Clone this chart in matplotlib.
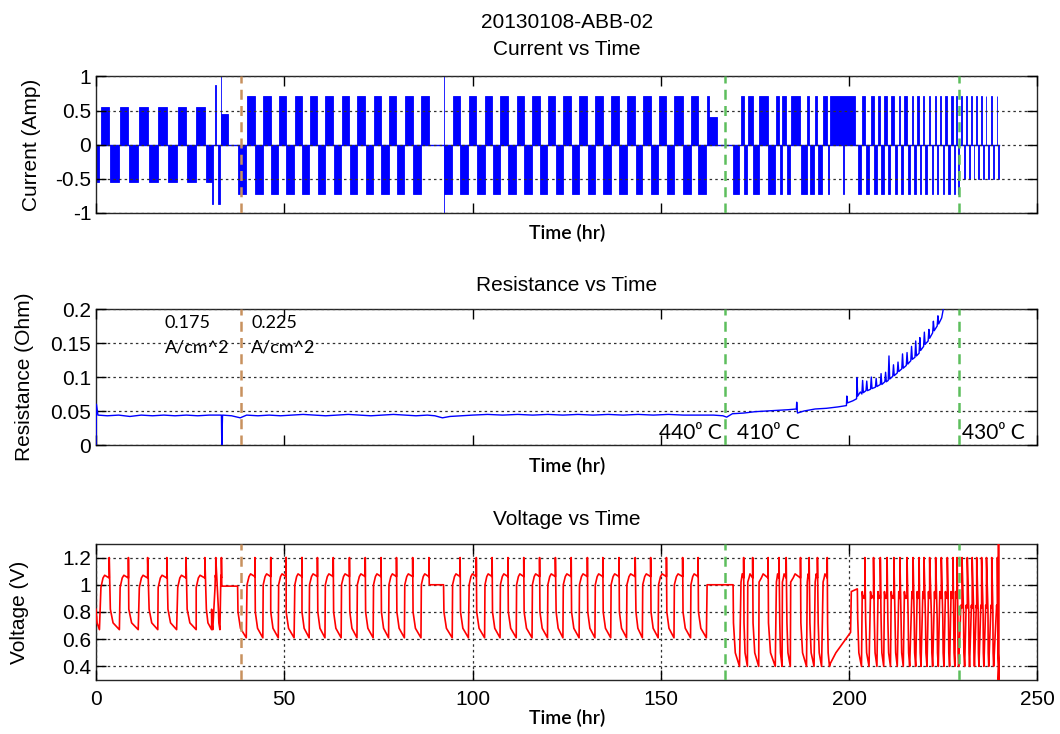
import numpy as np
import matplotlib
matplotlib.use('Agg')
import matplotlib.pyplot as plt

plt.rcParams['font.family'] = ['Liberation Sans', 'DejaVu Sans']
plt.rcParams['axes.unicode_minus'] = False

# current pulses, (start hr, end hr)
pos_1 = [(1.3, 3.5), (6.4, 8.6), (11.5, 13.7), (16.5, 18.8), (21.7, 23.9), (26.6, 28.9)]
neg_1 = [(0.0, 0.9), (3.8, 6.2), (8.7, 11.2), (14.1, 16.4), (19.1, 21.4), (24.2, 26.6), (29.3, 30.7)]
pos_2 = [(40.1, 42.2), (44.4, 46.4), (48.5, 50.5), (52.8, 54.7), (56.7, 58.8), (60.9, 63.0),
         (65.2, 67.3), (69.4, 71.5), (73.7, 75.7), (77.8, 79.8), (82.0, 84.1), (86.4, 88.4)]
neg_2 = [(37.7, 39.9), (42.3, 44.3), (46.4, 48.4), (50.5, 52.6), (54.7, 56.6), (58.9, 60.8),
         (63.1, 65.1), (67.4, 69.3), (71.6, 73.6), (75.8, 77.7), (79.9, 81.9), (84.2, 86.3)]
pos_3 = [(94.7, 96.7), (99.1, 101.0), (103.3, 105.2), (107.4, 109.4), (111.7, 113.6), (115.9, 117.8),
         (120.0, 122.0), (124.1, 126.2), (128.4, 130.5), (132.6, 134.6), (136.8, 138.9), (141.0, 143.2),
         (145.2, 147.3), (149.4, 151.5), (153.6, 155.8), (158.0, 159.9)]
neg_3 = [(92.4, 94.6), (96.8, 98.9), (101.1, 103.2), (105.3, 107.3), (109.5, 111.6), (113.7, 115.8),
         (117.9, 119.9), (122.2, 124.0), (126.3, 128.3), (130.6, 132.5), (134.7, 136.7), (139.0, 140.9),
         (143.4, 145.1), (147.4, 149.3), (151.6, 153.5), (155.9, 157.9), (160.0, 162.1)]
pos_4 = [(171.3, 172.0), (173.1, 174.4), (176.1, 178.5), (180.7, 181.4), (182.3, 183.3), (184.5, 187.1),
         (188.9, 189.4), (191.0, 191.6), (193.1, 194.2), (195.0, 201.7), (203.5, 204.2), (205.7, 206.5),
         (207.7, 208.3), (209.4, 210.1), (211.2, 211.9), (213.2, 213.5), (214.7, 215.4), (216.7, 217.0),
         (218.1, 218.6), (219.6, 219.9), (221.1, 221.4), (222.7, 223.0), (224.1, 224.5), (225.6, 226.1),
         (227.1, 227.6), (228.3, 228.7), (229.7, 230.0), (231.1, 231.4), (232.5, 232.7), (233.8, 233.9),
         (235.0, 235.2), (236.3, 236.5), (237.7, 237.9), (239.2, 239.4)]
neg_4a = [(169.3, 170.9), (172.1, 173.0), (174.5, 176.0), (178.6, 180.4), (181.6, 182.2), (183.5, 184.4),
          (187.2, 188.7), (189.6, 190.7), (191.8, 192.7), (194.3, 194.8), (198.3, 198.6), (202.3, 203.3),
          (204.4, 205.3), (206.7, 207.4), (208.5, 209.2), (210.3, 211.0), (212.2, 212.8), (213.8, 214.4),
          (215.7, 216.1), (217.3, 217.7), (218.8, 219.1), (220.3, 220.7), (221.9, 222.2), (223.4, 223.7),
          (224.9, 225.2), (226.4, 226.7), (227.8, 228.1), (228.9, 229.1)]
neg_4b = [(230.4, 230.7), (231.8, 232.0), (233.1, 233.3), (234.3, 234.5), (235.6, 235.8), (236.9, 237.1),
          (238.2, 238.4), (239.5, 239.8)]
cur_groups = [(pos_1, 0.55), (neg_1, -0.55), (pos_2, 0.72), (neg_2, -0.72), (pos_3, 0.72),
              (neg_3, -0.72), (pos_4, 0.72), (neg_4a, -0.72), (neg_4b, -0.5)]
# odd spikes / partial steps
cur_extra = [(30.7, 31.0, -0.87), (31.6, 31.8, 0.88), (32.5, 32.9, -0.87), (33.1, 33.3, 1.0),
             (33.3, 35.0, 0.45), (162.4, 162.8, 0.72), (162.8, 164.9, 0.40),
             (92.35, 92.45, 1.0), (92.35, 92.45, -1.0)]

# resistance (hr, Ohm)
res_t = [0, 0.1, 0.5, 3, 6, 9, 12, 15, 18, 21, 24, 27, 30, 33.3, 33.4, 33.6, 36, 38.3, 40, 43,
         46, 49, 52, 55, 58, 61, 64, 67, 70, 73, 76, 79, 82, 85, 88, 90, 92, 94, 97, 100,
         104, 108, 112, 116, 120, 124, 128, 132, 136, 140, 144, 148, 152, 156, 160, 164, 166.5, 167.5,
         169, 172, 175, 178, 181, 184, 186.0, 186.1, 186.3, 188, 191, 194, 197, 199.3, 199.4, 199.6,
         201, 202.0, 202.1, 202.3, 203.0, 203.4, 203.6, 203.8, 204.5, 204.7, 204.9, 205.7, 205.9, 206.1,
         207.0, 207.2, 207.4, 208.3, 208.5, 208.7, 209.5, 209.7, 209.9, 210.4, 210.6, 210.8, 211.6, 211.8,
         212.0, 212.8, 213.0, 213.2, 214.0, 214.2, 214.4, 215.2, 215.4, 215.6, 216.4, 216.6, 216.8,
         217.5, 217.7, 217.9, 218.6, 218.8, 219.0, 219.8, 220.0, 220.2, 221.0, 221.2, 221.4, 222.2,
         222.4, 222.6, 223.4, 223.6, 223.8, 224.6, 225.2]
res_v = [0.0, 0.060, 0.044, 0.043, 0.044, 0.042, 0.044, 0.043, 0.044, 0.043, 0.044, 0.043, 0.044, 0.044,
         0.0, 0.044, 0.043, 0.040, 0.044, 0.043, 0.044, 0.043, 0.044, 0.045, 0.044, 0.043, 0.044, 0.045,
         0.044, 0.043, 0.044, 0.045, 0.044, 0.043, 0.044, 0.043, 0.040, 0.042, 0.043, 0.044, 0.045, 0.044,
         0.045, 0.044, 0.045, 0.044, 0.045, 0.044, 0.045, 0.044, 0.045, 0.044, 0.045, 0.044, 0.044, 0.044,
         0.043, 0.041, 0.046, 0.047, 0.049, 0.050, 0.051, 0.052, 0.053, 0.063, 0.047, 0.050, 0.053, 0.054,
         0.056, 0.058, 0.072, 0.062, 0.065, 0.068, 0.099, 0.072, 0.078, 0.075, 0.095, 0.077, 0.080, 0.094,
         0.080, 0.082, 0.100, 0.083, 0.085, 0.098, 0.086, 0.089, 0.105, 0.089, 0.093, 0.107, 0.093, 0.095,
         0.131, 0.097, 0.101, 0.118, 0.102, 0.106, 0.122, 0.108, 0.112, 0.134, 0.113, 0.117, 0.136, 0.119,
         0.124, 0.145, 0.126, 0.129, 0.153, 0.131, 0.135, 0.158, 0.139, 0.145, 0.166, 0.148, 0.153, 0.170,
         0.157, 0.165, 0.182, 0.168, 0.175, 0.190, 0.178, 0.187, 0.205]

# voltage levels during pulses, per stretch of time (stretch ends at volt_seg_end)
volt_seg_end = [36, 90, 166, 201, 229, 241]
volt_hi_start = [0.98, 1.00, 1.00, 1.02, 0.95, 0.85]
volt_hi_peak = [1.07, 1.08, 1.08, 1.08, 0.92, 0.84]
volt_hi_end = [1.05, 1.06, 1.06, 1.05, 0.90, 0.83]
volt_spike = [1.20, 1.20, 1.20, 1.20, 1.20, 1.20]
volt_lo_start = [0.82, 0.80, 0.80, 0.72, 0.75, 0.80]
volt_lo_knee = [0.72, 0.68, 0.68, 0.50, 0.50, 0.50]
volt_lo_end = [0.67, 0.61, 0.61, 0.40, 0.40, 0.40]
volt_rest = [(33.4, 37.6, 0.99), (88.5, 92.3, 1.00), (162.3, 169.2, 1.00)]
volt_extra = [(30.7, 31.0, -1), (31.6, 31.8, 1), (32.5, 32.9, -1), (33.1, 33.3, 1)]
# the long 195-201.7 hr block behaves differently
block_t = [195.0, 196.5, 200.4, 200.6, 202.2]
block_v = [0.42, 0.50, 0.65, 0.95, 0.97]
volt_tail_t = [239.6, 239.7, 239.8]
volt_tail_v = [0.25, 1.35, 0.25]

brown_line = 38.4
green_lines = [167.1, 229.2]

# build voltage trace from the pulse sequence
pulses = [(a, b, 1) for g, amp in cur_groups if amp > 0 for a, b in g]
pulses += [(a, b, -1) for g, amp in cur_groups if amp < 0 for a, b in g]
pulses = sorted(pulses + volt_extra)
vt, vv = [], []
prev_end = -1
for a, b, s in pulses:
    if a < prev_end:
        continue
    for r0, r1, rv in volt_rest:
        if prev_end <= r0 and r1 <= a:
            vt += [r0, r1]
            vv += [rv, rv]
    k = int(np.searchsorted(volt_seg_end, a))
    d = b - a
    if a == block_t[0]:
        vt += block_t
        vv += block_v
        prev_end = block_t[-1]
        continue
    if s > 0:
        vt += [a, a + 0.25 * d, a + 0.45 * d, b, b]
        vv += [volt_hi_start[k], volt_hi_end[k], volt_hi_peak[k], volt_hi_end[k], volt_spike[k]]
    else:
        vt += [a, a + 0.3 * d, b]
        vv += [volt_lo_start[k], volt_lo_knee[k], volt_lo_end[k]]
    prev_end = b
vt += volt_tail_t
vv += volt_tail_v

BLUE = '#0000FF'
RED = '#FF0000'
BROWN = '#C8915E'
GREEN = '#5DBE5D'
CAL = ['Lato', 'DejaVu Sans']

fig = plt.figure(figsize=(10.6, 7.34), dpi=100)
ax1 = fig.add_axes([0.0906, 0.7102, 0.888, 0.1856])
ax2 = fig.add_axes([0.0906, 0.3937, 0.888, 0.1853])
ax3 = fig.add_axes([0.0906, 0.0736, 0.888, 0.1853])

for ax in (ax1, ax2, ax3):
    ax.set_xlim(0, 250)
    ax.set_xticks([0, 50, 100, 150, 200, 250])
    ax.tick_params(direction='in', top=True, right=True, length=7, width=1, labelsize=15)
    ax.grid(axis='y', linestyle=(0, (2, 2.5)), color='#303030', lw=0.9)
    ax.set_axisbelow(False)
    for sp in ax.spines.values():
        sp.set_linewidth(1)
        sp.set_color('#262626')
    ax.axvline(brown_line, color=BROWN, ls=(0, (4, 2.5)), lw=1.8, zorder=4)
    for g in green_lines:
        ax.axvline(g, color=GREEN, ls=(0, (4, 2.5)), lw=1.8, zorder=4)
    ax.set_xlabel('Time (hr)', family=CAL, fontsize=14, fontweight='semibold')
    ax.yaxis.set_major_formatter(plt.FormatStrFormatter('%g'))

# current
for g, amp in cur_groups:
    ax1.bar([a for a, b in g], [amp] * len(g), width=[b - a for a, b in g], align='edge',
            color=BLUE, edgecolor=BLUE, linewidth=0.6, zorder=2)
ax1.bar([e[0] for e in cur_extra], [e[2] for e in cur_extra], width=[e[1] - e[0] for e in cur_extra],
        align='edge', color=BLUE, edgecolor=BLUE, linewidth=0.6, zorder=2)
ax1.plot([0, 239.8], [0, 0], color=BLUE, lw=1, zorder=2)
ax1.set_ylim(-1, 1)
ax1.set_yticks([-1, -0.5, 0, 0.5, 1])
ax1.tick_params(labelbottom=False)
ax1.set_ylabel('Current (Amp)', fontsize=15)
ax1.yaxis.set_label_coords(-0.058, 0.5)
ax1.xaxis.set_label_coords(0.5, -0.083)
t1 = ax1.set_title('20130108-ABB-02\nCurrent vs Time', fontsize=15, pad=15.5)
t1.set_linespacing(1.5)

# resistance
ax2.plot(res_t, res_v, color=BLUE, lw=1.0, zorder=3)
ax2.set_ylim(0, 0.2)
ax2.set_yticks([0, 0.05, 0.1, 0.15, 0.2])
ax2.tick_params(labelbottom=False)
ax2.set_ylabel('Resistance (Ohm)', fontsize=15)
ax2.yaxis.set_label_coords(-0.066, 0.5)
ax2.xaxis.set_label_coords(0.5, -0.088)
ax2.set_title('Resistance vs Time', fontsize=15, pad=13)
ax2.text(18.3, 0.1615, '0.175\nA/cm^2', family=CAL, fontsize=13, va='center', ha='left', linespacing=1.6)
ax2.text(41.2, 0.1615, '0.225\nA/cm^2', family=CAL, fontsize=13, va='center', ha='left', linespacing=1.6)
for x, lab in [(149.6, '440⁰ C'), (170.2, '410⁰ C'), (230.1, '430⁰ C')]:
    ax2.text(x, 0.017, lab, family=CAL, fontsize=15, va='center', ha='left', zorder=5)

# voltage
ax3.plot(vt, vv, color=RED, lw=1.2, zorder=3)
ax3.set_ylim(0.3, 1.3)
ax3.set_yticks([0.4, 0.6, 0.8, 1.0, 1.2])
ax3.grid(axis='x', linestyle=(0, (2, 2.5)), color='#303030', lw=0.9)
ax3.tick_params(axis='x', pad=7.5)
ax3.set_ylabel('Voltage (V)', fontsize=15)
ax3.yaxis.set_label_coords(-0.071, 0.5)
ax3.xaxis.set_label_coords(0.5, -0.213)
ax3.set_title('Voltage vs Time', fontsize=15, pad=14)

fig.savefig('out.png', dpi=100)
